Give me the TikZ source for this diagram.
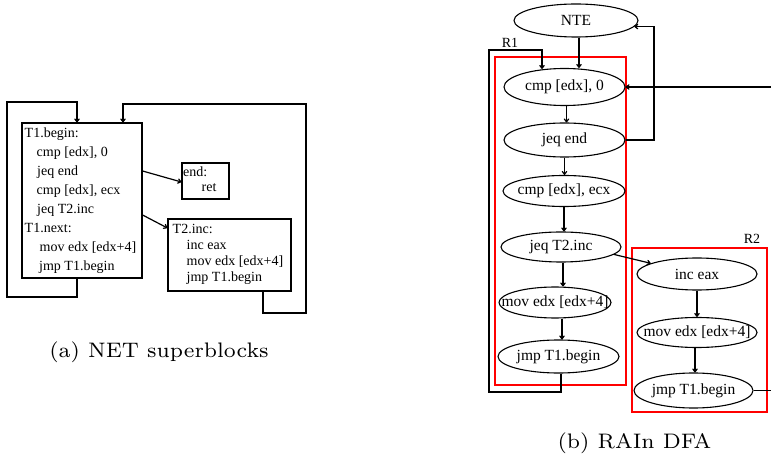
\documentclass[tikz,border=0pt]{standalone}
\usepackage{fontspec}
\newfontfamily\tnr{Liberation Serif}
\usetikzlibrary{shapes.geometric,arrows.meta}
\newcommand{\ctr}[1]{\makebox[0pt]{#1}}
\begin{document}
\begin{tikzpicture}[x=1pt,y=1pt,
  box/.style={draw, line width=1.2pt, rectangle, inner sep=0pt},
  codetxt/.style={anchor=north west, inner sep=0pt, align=left},
  st/.style={draw, ellipse, line width=1.1pt, inner sep=0pt, font=\tnr\fontsize{15.5}{18}\selectfont},
  arr/.style={line width=1.2pt, -{To[length=4pt,width=5.5pt]}},
  ln/.style={line width=1.2pt},
  region/.style={draw=red, line width=1.4pt},
  rlabel/.style={font=\tnr\fontsize{14}{16}\selectfont, inner sep=0pt},
  captxt/.style={font=\fontsize{7}{8}\selectfont, inner sep=0pt, scale=3, transform shape}]
\useasboundingbox (0,0) rectangle (771,-462);
% ---------- (a) NET superblocks ----------
\node[box, minimum width=120pt, minimum height=155pt] (T1) at (82,-200.5) {};
\node[box, minimum width=47pt, minimum height=36pt] (end) at (205.5,-181) {};
\node[box, minimum width=123pt, minimum height=72pt] (T2) at (229.5,-255) {};
\node[codetxt, font=\tnr\fontsize{14}{19}\selectfont] (T1t) at (24.5,-127.5)
  {T1.begin:\\
   \hspace*{12pt}cmp [edx], 0\\
   \hspace*{12.5pt}jeq end\\
   \hspace*{12pt}cmp [edx], ecx\\
   \hspace*{12.5pt}jeq T2.inc\\
   T1.next:\\
   \hspace*{15pt}mov edx [edx+4]\\
   \hspace*{14.5pt}jmp T1.begin};
\node[codetxt, font=\tnr\fontsize{14}{15.5}\selectfont] (endt) at (183,-166.5)
  {end:\\ \hspace*{18.5pt}ret};
\node[codetxt, font=\tnr\fontsize{14}{16}\selectfont] (T2t) at (172.5,-224)
  {T2.inc:\\
   \hspace*{14pt}inc eax\\
   \hspace*{14pt}mov edx [edx+4]\\
   \hspace*{14pt}jmp T1.begin};
\coordinate (la) at (7,-297);
\coordinate (lb) at (7,-102);
\coordinate (ra) at (306,-313);
\coordinate (rb) at (306,-104);
\draw[arr] ([xshift=-5pt]T1.south) |- (la) -- (lb) -| ([xshift=-5pt]T1.north);
\draw[arr] ([xshift=33.5pt]T2.south) |- (ra) -- (rb) -| ([xshift=41pt]T1.north);
\draw[arr] ([yshift=29.5pt]T1.east) -- ([yshift=-1pt]end.west);
\draw[arr] ([yshift=-14.5pt]T1.east) -- ([yshift=27pt]T2.west);
\node[captxt] (capa) at (159,-352) {(a) NET superblocks};
% ---------- (b) RAIn DFA ----------
\draw[region] (495,-57) rectangle (626,-385);
\draw[region] (632,-248) rectangle (767,-412);
\node[rlabel] (R1) at (510,-43) {R1};
\node[rlabel] (R2) at (752,-239) {R2};
\node[st, minimum width=124pt, minimum height=33pt] (nte) at (576,-20.5) {\ctr{NTE}};
\node[st, minimum width=121pt, minimum height=37pt] (c0) at (564.5,-87) {\ctr{cmp [edx], 0}};
\node[st, minimum width=121pt, minimum height=34pt] (je) at (564.5,-140) {\ctr{jeq end}};
\node[st, minimum width=122pt, minimum height=31pt] (cx) at (564,-191) {\ctr{cmp [edx], ecx}};
\node[st, minimum width=120pt, minimum height=30pt] (jt) at (561,-247) {\ctr{jeq T2.inc}};
\node[st, minimum width=112pt, minimum height=31pt] (mv) at (555,-302.5) {\ctr{mov edx [edx+4]}};
\node[st, minimum width=121pt, minimum height=33pt] (jp) at (558.5,-356.5) {\ctr{jmp T1.begin}};
\node[st, minimum width=120pt, minimum height=32pt] (ie) at (697,-274) {\ctr{inc eax}};
\node[st, minimum width=120pt, minimum height=30pt] (mv2) at (697,-332.5) {\ctr{mov edx [edx+4]}};
\node[st, minimum width=119pt, minimum height=35pt] (jp2) at (693.5,-390.5) {\ctr{jmp T1.begin}};
\coordinate (p1) at (489,-392);
\coordinate (p2) at (489,-50);
\coordinate (p3) at (542,-50);
\coordinate (q1) at (654,-140);
\coordinate (e1) at (771,-87);
\coordinate (e2) at (771,-390.5);
\draw[arr] ([xshift=3pt]nte.south) -- ([xshift=3pt]nte.south |- c0.north);
\draw[arr] ([xshift=2pt]c0.south) -- ([xshift=2pt]c0.south |- je.north);
\draw[arr] (je.south) -- (je.south |- cx.north);
\draw[arr] (cx.south) -- (cx.south |- jt.north);
\draw[arr] ([xshift=2pt]jt.south) -- ([xshift=2pt]jt.south |- mv.north);
\draw[arr] ([xshift=7pt]mv.south) -- ([xshift=7pt]mv.south |- jp.north);
\draw[arr] ([xshift=2.5pt]jp.south) |- (p1) -- (p2) -| ([yshift=-1pt]c0.north -| p3);
\draw[arr] (je.east) -- (q1) |- (nte.-6);
\draw[arr] (e1) -- (c0.east);
\draw[arr] (jt.-8) -- (ie.167);
\draw[arr] (ie.south) -- (ie.south |- mv2.north);
\draw[arr] ([xshift=-2pt]mv2.south) -- ([xshift=-2pt]mv2.south |- jp2.north);
\draw[ln] (jp2.east) -- (e2);
\node[captxt] (capb) at (634.5,-443) {(b) RAIn DFA};
\end{tikzpicture}
\end{document}
